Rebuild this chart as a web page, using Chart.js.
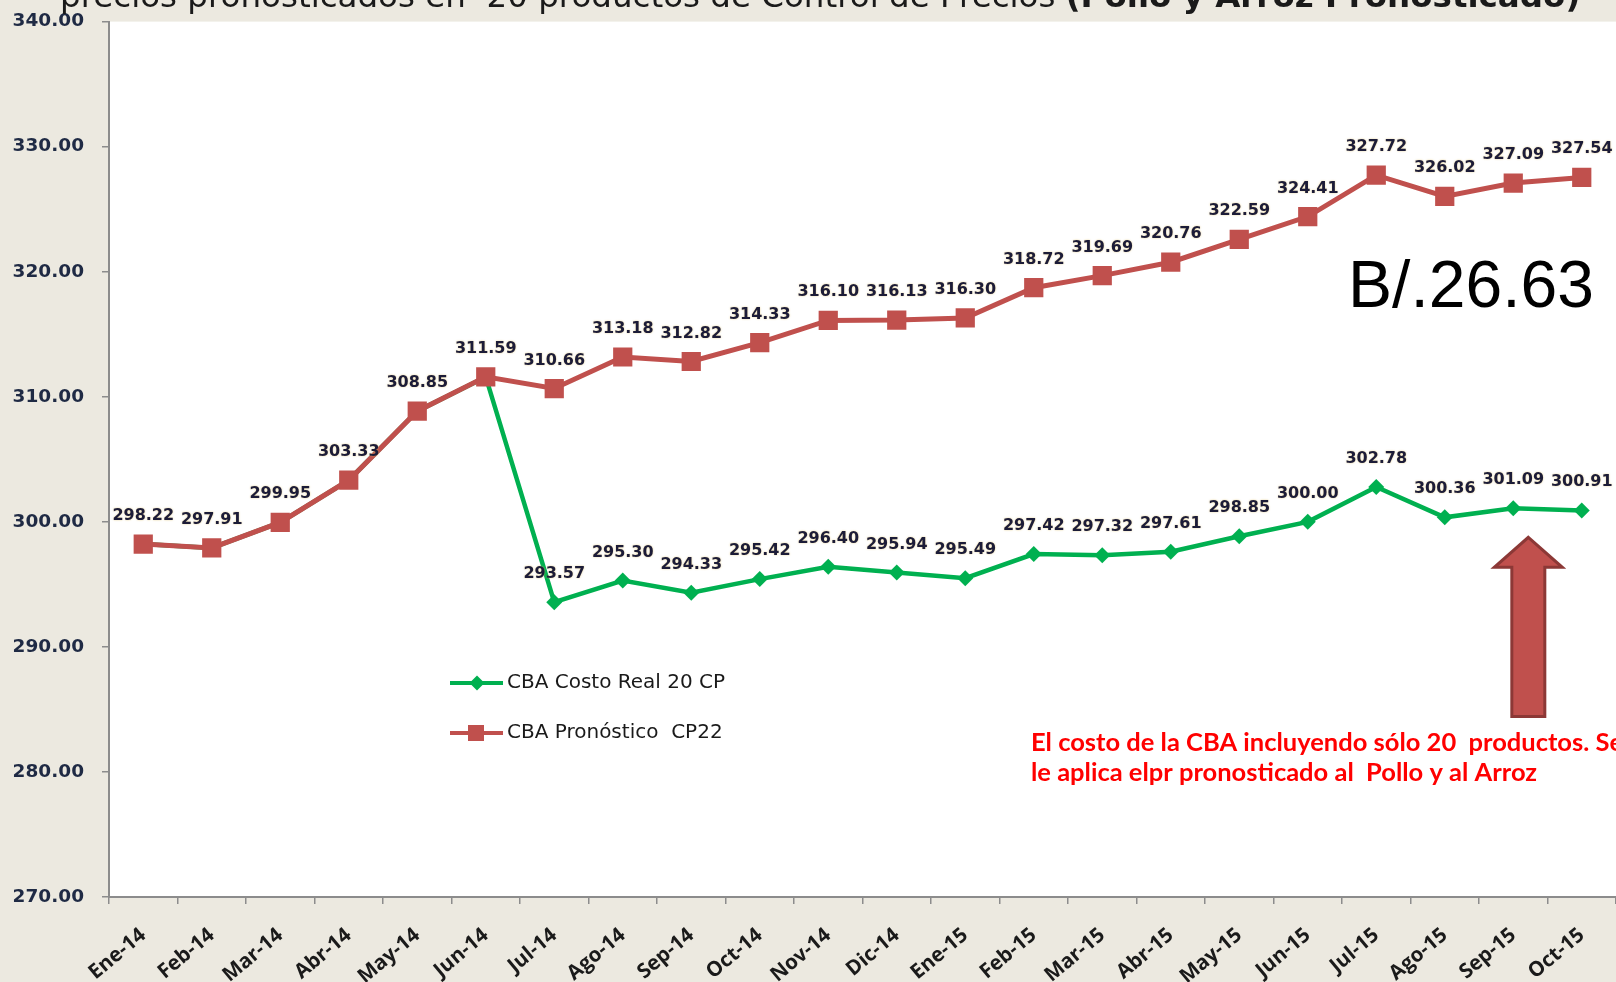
<!DOCTYPE html>
<html>
<head>
<meta charset="utf-8">
<script src="https://cdn.jsdelivr.net/npm/chart.js@4.4.0/dist/chart.umd.min.js"></script>
<style>
html, body { margin: 0; padding: 0; background: #ECE9E0; }
canvas { display: block; }
</style>
</head>
<body>
<canvas id="chart" width="1616" height="982"></canvas>
<script>
const months = ['Ene-14', 'Feb-14', 'Mar-14', 'Abr-14', 'May-14', 'Jun-14', 'Jul-14', 'Ago-14', 'Sep-14', 'Oct-14', 'Nov-14', 'Dic-14',
    'Ene-15', 'Feb-15', 'Mar-15', 'Abr-15', 'May-15', 'Jun-15', 'Jul-15', 'Ago-15', 'Sep-15', 'Oct-15']

const costoReal = [298.22, 297.91, 299.95, 303.33, 308.85, 311.59, 293.57, 295.30, 294.33, 295.42, 296.40, 295.94,
    295.49, 297.42, 297.32, 297.61, 298.85, 300.00, 302.78, 300.36, 301.09, 300.91]

const pronostico = [298.22, 297.91, 299.95, 303.33, 308.85, 311.59, 310.66, 313.18, 312.82, 314.33, 316.10, 316.13,
    316.30, 318.72, 319.69, 320.76, 322.59, 324.41, 327.72, 326.02, 327.09, 327.54]

const yTickValues = [270, 280, 290, 300, 310, 320, 330, 340]

const titleText = 'precios pronosticados en  20 productos de Control de Precios '
const titleBold = '(Pollo y Arroz Pronosticado)'
const diffText = 'B/.26.63'
const noteLines = ['El costo de la CBA incluyendo sólo 20  productos. Se', 'le aplica elpr pronosticado al  Pollo y al Arroz']

// arrow pointing at the gap, in axis units (category index / value)
const arrowIndex = 20.22
const arrowTip = 298.76
const arrowNeck = 296.36
const arrowBase = 284.44

const RED = '#C0504D'
const GREEN = '#00B050'
const LABEL = '#1C1C38'

const background = {
    id: 'background',
    beforeDraw(chart) {
        const {ctx, chartArea: a} = chart
        ctx.save()
        ctx.fillStyle = '#ECE9E0'
        ctx.fillRect(0, 0, chart.width, chart.height)
        ctx.fillStyle = '#FFFFFF'
        ctx.fillRect(a.left, a.top, a.right - a.left, a.bottom - a.top)
        ctx.restore()
    }
}

const pointLabels = {
    id: 'pointLabels',
    afterDatasetsDraw(chart) {
        const ctx = chart.ctx
        ctx.save()
        ctx.font = 'bold 16px "DejaVu Sans"'
        ctx.textAlign = 'center'
        ctx.textBaseline = 'alphabetic'
        ctx.fillStyle = LABEL
        ctx.shadowColor = 'rgba(225, 195, 110, 0.8)'
        ctx.shadowBlur = 2
        chart.data.datasets.forEach((ds, i) => {
            let meta = chart.getDatasetMeta(i)
            meta.data.forEach((pt, j) => {
                if (j < ds.labelFrom) return
                ctx.fillText(ds.data[j].toFixed(2), pt.x, pt.y - 24)
            })
        })
        ctx.restore()
    }
}

const extras = {
    id: 'extras',
    afterDraw(chart) {
        const ctx = chart.ctx
        const x = chart.scales.x
        const y = chart.scales.y
        ctx.save()

        // title, cut at the top of the picture
        ctx.fillStyle = '#1a1a1a'
        ctx.textBaseline = 'alphabetic'
        ctx.textAlign = 'left'
        ctx.font = '32.5px "DejaVu Sans"'
        ctx.fillText(titleText, 60, 7)
        let w = ctx.measureText(titleText).width
        ctx.font = 'bold 32.5px "DejaVu Sans"'
        ctx.fillText(titleBold, 60 + w, 7)

        // legend inside the plot
        let legendRows = [683, 733]
        chart.data.datasets.forEach((ds, i) => {
            let ly = legendRows[i]
            ctx.strokeStyle = ds.borderColor
            ctx.lineWidth = 4
            ctx.beginPath()
            ctx.moveTo(450, ly)
            ctx.lineTo(503, ly)
            ctx.stroke()
            ctx.fillStyle = ds.borderColor
            if (ds.pointStyle === 'rect') {
                ctx.fillRect(468, ly - 8, 16, 16)
            } else {
                ctx.beginPath()
                ctx.moveTo(477, ly - 7.5)
                ctx.lineTo(484.5, ly)
                ctx.lineTo(477, ly + 7.5)
                ctx.lineTo(469.5, ly)
                ctx.closePath()
                ctx.fill()
            }
            ctx.fillStyle = '#1a1a1a'
            ctx.font = '20px "DejaVu Sans"'
            ctx.textBaseline = 'middle'
            ctx.fillText(ds.label, 507, ly)
        })

        // arrow
        let ax = x.getPixelForValue(arrowIndex)
        let tipY = y.getPixelForValue(arrowTip)
        let neckY = y.getPixelForValue(arrowNeck)
        let baseY = y.getPixelForValue(arrowBase)
        ctx.beginPath()
        ctx.moveTo(ax, tipY)
        ctx.lineTo(ax + 34, neckY)
        ctx.lineTo(ax + 16.5, neckY)
        ctx.lineTo(ax + 16.5, baseY)
        ctx.lineTo(ax - 16.5, baseY)
        ctx.lineTo(ax - 16.5, neckY)
        ctx.lineTo(ax - 34, neckY)
        ctx.closePath()
        ctx.fillStyle = RED
        ctx.fill()
        ctx.strokeStyle = '#8C3836'
        ctx.lineWidth = 3
        ctx.stroke()

        // difference
        ctx.fillStyle = '#000000'
        ctx.textAlign = 'center'
        ctx.textBaseline = 'alphabetic'
        ctx.font = '66px "Liberation Sans"'
        ctx.fillText(diffText, 1471, 307)

        // note
        ctx.fillStyle = '#FF0000'
        ctx.textAlign = 'left'
        ctx.font = 'bold 25.5px Lato'
        ctx.fillText(noteLines[0], 1031, 751)
        ctx.fillText(noteLines[1], 1031, 781)

        ctx.restore()
    }
}

new Chart(document.getElementById('chart'), {
    type: 'line',
    data: {
        labels: months,
        datasets: [
            {
                label: 'CBA Costo Real 20 CP',
                data: costoReal,
                borderColor: GREEN,
                backgroundColor: GREEN,
                borderWidth: 4.5,
                pointStyle: 'rectRot',
                pointRadius: 8,
                pointBorderWidth: 0,
                tension: 0,
                order: 1,
                labelFrom: 6
            },
            {
                label: 'CBA Pronóstico  CP22',
                data: pronostico,
                borderColor: RED,
                backgroundColor: RED,
                borderWidth: 5,
                pointStyle: 'rect',
                pointRadius: 13.6,
                pointBorderWidth: 0,
                tension: 0,
                order: 0,
                labelFrom: 0
            }
        ]
    },
    options: {
        responsive: false,
        animation: false,
        layout: {autoPadding: false, padding: {top: 21.6, right: 0, left: 0, bottom: 0}},
        plugins: {
            legend: {display: false},
            tooltip: {enabled: false},
            title: {display: false}
        },
        scales: {
            x: {
                offset: true,
                grid: {drawOnChartArea: false, offset: true, color: '#8C8C8C', lineWidth: 1.5, tickLength: 7},
                border: {color: '#8C8C8C', width: 2},
                ticks: {
                    autoSkip: false,
                    maxRotation: 40,
                    minRotation: 40,
                    padding: 19,
                    color: '#1a1a1a',
                    font: {family: 'Open Sans', weight: 'bold', size: 20.5}
                },
                afterFit(scale) {
                    scale.height = 85
                    scale.paddingLeft = 0
                    scale.paddingRight = 0
                }
            },
            y: {
                min: 270,
                max: 340,
                afterBuildTicks(scale) {
                    scale.ticks = yTickValues.map(v => ({value: v}))
                },
                grid: {drawOnChartArea: false, color: '#8C8C8C', lineWidth: 1.5, tickLength: 7},
                border: {color: '#8C8C8C', width: 2},
                ticks: {
                    padding: 18,
                    color: '#1F2A44',
                    font: {family: 'DejaVu Sans', weight: 'bold', size: 18.5},
                    callback: v => v.toFixed(2)
                },
                afterFit(scale) {
                    scale.width = 109
                    scale.paddingTop = 0
                    scale.paddingBottom = 0
                }
            }
        }
    },
    plugins: [background, pointLabels, extras]
})
</script>
</body>
</html>
